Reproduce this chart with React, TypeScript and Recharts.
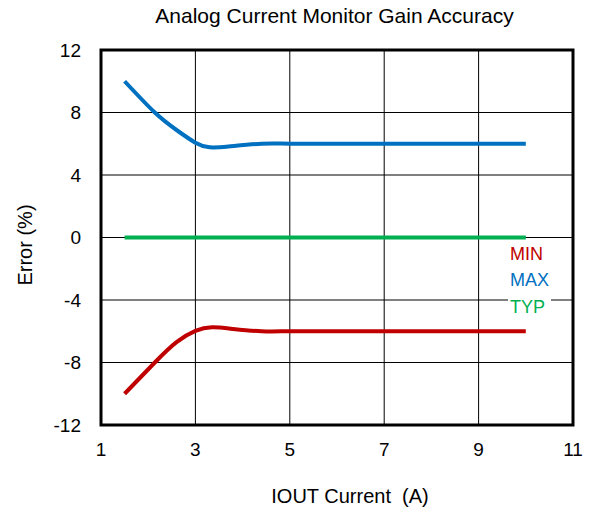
import React from "react";
import { LineChart, Line, XAxis, YAxis, CartesianGrid, Legend, ReferenceArea, Label } from "recharts";

const FONT = '"Liberation Sans", Arial, sans-serif';

// IOUT current (A) and gain error (%) per curve
const minCurrents = [1.5, 2.14, 2.6, 3, 3.35, 3.8, 4.4, 5, 6, 7, 8, 9, 10];
const minErr = [-10, -8, -6.7, -5.98, -5.75, -5.85, -6, -6, -6, -6, -6, -6, -6];
const maxCurrents = [1.5, 2.14, 2.6, 3, 3.3, 3.7, 4.4, 5, 6, 7, 8, 9, 10];
const maxErr = [10, 8, 6.88, 6.07, 5.77, 5.82, 6, 6, 6, 6, 6, 6, 6];
const typCurrents = [1.5, 10];
const typErr = [0, 0];

const seriesOrder = ["MIN", "MAX", "TYP"];
const xTicks = [1, 3, 5, 7, 9, 11];
const yTicks = [-12, -8, -4, 0, 4, 8, 12];

const toRows = (xs: number[], ys: number[]) => xs.map((x, i) => ({ current: x, err: ys[i] }));
const minData = toRows(minCurrents, minErr);
const maxData = toRows(maxCurrents, maxErr);
const typData = toRows(typCurrents, typErr);

function LegendBox({ payload }: any) {
  const items = [...(payload || [])].sort(
    (a: any, b: any) => seriesOrder.indexOf(a.value) - seriesOrder.indexOf(b.value)
  );
  return (
    <div style={{ background: "#fff", padding: "0 2px", fontFamily: FONT, fontSize: 18, lineHeight: "26.3px" }}>
      {items.map((p: any) => (
        <div key={p.value} style={{ color: p.color }}>{p.value}</div>
      ))}
    </div>
  );
}

export default function App() {
  return (
    <div style={{ position: "absolute", left: 0, top: 0, width: 593, height: 513, background: "#fff" }}>
      <div
        style={{
          position: "absolute", left: 0, top: 4, width: 669, textAlign: "center",
          fontFamily: FONT, fontSize: 21, color: "#000", zIndex: 2,
        }}
      >
        Analog Current Monitor Gain Accuracy
      </div>
      <LineChart width={593} height={513} margin={{ top: 50, right: 20, bottom: 0, left: 0 }}>
        <CartesianGrid stroke="#000" strokeWidth={1} horizontalValues={yTicks} verticalValues={xTicks} />
        <XAxis
          type="number" dataKey="current" domain={[1, 11]} ticks={xTicks} height={88}
          allowDuplicatedCategory={false}
          axisLine={false} tickLine={false} tickSize={0} tickMargin={18}
          tick={{ fontSize: 19, fill: "#000", fontFamily: FONT }}
        >
          <Label
            content={() => (
              <text x={350} y={503} textAnchor="middle" fontSize={20} fontFamily={FONT} fill="#000" style={{ whiteSpace: "pre" }}>
                IOUT Current  (A)
              </text>
            )}
          />
        </XAxis>
        <YAxis
          type="number" domain={[-12, 12]} ticks={yTicks} width={101}
          axisLine={false} tickLine={false} tickSize={0} tickMargin={20}
          tick={{ fontSize: 19, fill: "#000", fontFamily: FONT }}
        >
          <Label
            content={() => (
              <text x={32} y={245} transform="rotate(-90 32 245)" textAnchor="middle" fontSize={20} fontFamily={FONT} fill="#000">
                Error (%)
              </text>
            )}
          />
        </YAxis>
        <ReferenceArea x1={1} x2={11} y1={-12} y2={12} fill="none" stroke="#000" strokeWidth={3} ifOverflow="visible" />
        <Line data={minData} dataKey="err" name="MIN" type="natural" stroke="#C00000" strokeWidth={4} dot={false} isAnimationActive={false} />
        <Line data={maxData} dataKey="err" name="MAX" type="natural" stroke="#0070C0" strokeWidth={4} dot={false} isAnimationActive={false} />
        <Line data={typData} dataKey="err" name="TYP" type="linear" stroke="#00B050" strokeWidth={4} dot={false} isAnimationActive={false} />
        <Legend
          layout="vertical" align="center" verticalAlign="middle"
          content={<LegendBox />}
          wrapperStyle={{ position: "absolute", left: 508, top: 241, width: "auto" }}
        />
      </LineChart>
    </div>
  );
}
